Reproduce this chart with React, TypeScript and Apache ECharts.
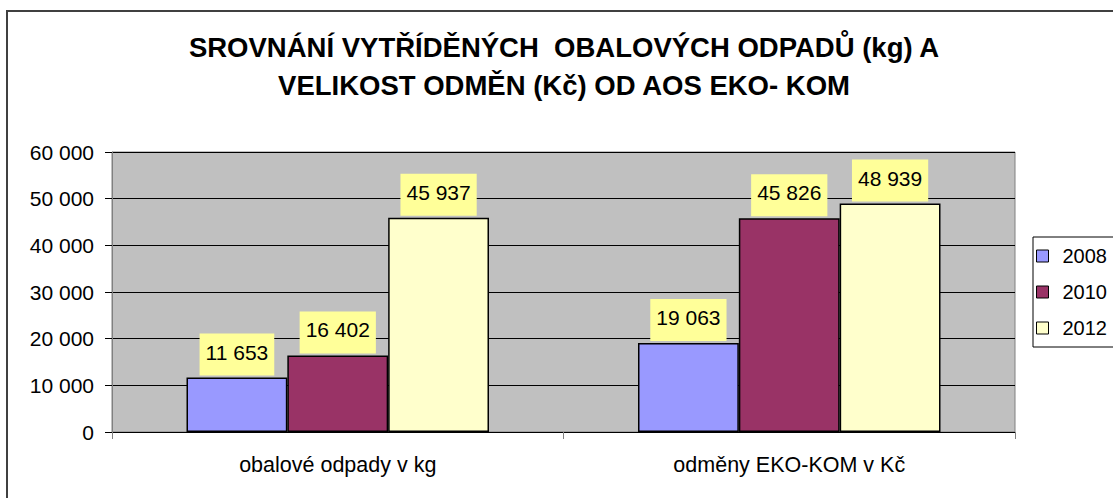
import React, { useEffect, useRef } from "react";
import * as echarts from "echarts";

const categories = ["obalové odpady v kg", "odměny EKO-KOM v Kč"];
const seriesNames = ["2008", "2010", "2012"];
const values2008 = [11653, 19063];
const values2010 = [16402, 45826];
const values2012 = [45937, 48939];
const seriesColors = ["#9999FF", "#993366", "#FFFFCC"];
const titleText = "SROVNÁNÍ VYTŘÍDĚNÝCH  OBALOVÝCH ODPADŮ (kg) A\nVELIKOST ODMĚN (Kč) OD AOS EKO- KOM";

const FONT = "'Liberation Sans', Arial, sans-serif";

const fmt = (v: number) =>
  String(Math.round(v)).replace(/\B(?=(\d{3})+(?!\d))/g, " ");

export default function App() {
  const ref = useRef<HTMLDivElement>(null);
  useEffect(() => {
    if (!ref.current) return;
    const chart = echarts.init(ref.current, null, { renderer: "svg" });
    const allValues = [values2008, values2010, values2012];
    chart.setOption({
      animation: false,
      backgroundColor: "#ffffff",
      title: {
        text: titleText,
        left: 559,
        textAlign: "center",
        top: 23,
        textStyle: {
          fontFamily: FONT,
          fontSize: 27.5,
          fontWeight: "bold",
          color: "#000",
          lineHeight: 38,
        },
      },
      graphic: [
        {
          type: "rect",
          shape: { x: 7, y: 11, width: 1200, height: 600 },
          style: { fill: "none", stroke: "#404040", lineWidth: 2 },
          silent: true,
          z: 100,
        },
      ],
      legend: {
        orient: "vertical",
        left: 1033,
        top: 237,
        padding: [9, 40, 9, 3],
        borderColor: "#000",
        borderWidth: 1,
        itemWidth: 12,
        itemHeight: 12,
        itemGap: 16,
        icon: "rect",
        itemStyle: { borderColor: "#000", borderWidth: 1 },
        textStyle: {
          fontFamily: FONT,
          fontSize: 20,
          color: "#000",
          lineHeight: 20,
          padding: [0, 0, 0, 9],
        },
        data: seriesNames,
      },
      grid: {
        left: 112,
        right: 98,
        top: 152,
        bottom: 66,
        show: true,
        backgroundColor: "#C0C0C0",
        borderColor: "#808080",
        borderWidth: 1,
      },
      xAxis: {
        type: "category",
        data: categories,
        axisLine: { show: true, lineStyle: { color: "#000", width: 1 } },
        axisTick: { show: true, length: 7, lineStyle: { color: "#808080" } },
        axisLabel: {
          fontFamily: FONT,
          fontSize: 21.5,
          color: "#000",
          margin: 22,
        },
      },
      yAxis: {
        type: "value",
        min: 0,
        max: 60000,
        interval: 10000,
        axisLine: { show: true, lineStyle: { color: "#808080", width: 1 } },
        axisTick: { show: true, length: 7, lineStyle: { color: "#000" } },
        axisLabel: {
          fontFamily: FONT,
          fontSize: 21,
          color: "#000",
          margin: 18,
          formatter: (v: number) => fmt(v),
        },
        splitLine: { show: true, lineStyle: { color: "#000", width: 1 } },
      },
      series: seriesNames.map((name, i) => ({
        name,
        type: "bar",
        data: allValues[i],
        barGap: "0%",
        barCategoryGap: "33%",
        itemStyle: {
          color: seriesColors[i],
          borderColor: "#000",
          borderWidth: 1.5,
        },
        label: {
          show: true,
          position: "top",
          distance: 2,
          fontFamily: FONT,
          fontSize: 21,
          color: "#000",
          backgroundColor: "#FFFF99",
          padding: [8, 6, 13, 6],
          formatter: (p: any) => fmt(p.value),
        },
      })),
    });
    return () => chart.dispose();
  }, []);
  return (
    <div
      ref={ref}
      style={{ position: "fixed", left: 0, top: 0, width: 1113, height: 498 }}
    />
  );
}
